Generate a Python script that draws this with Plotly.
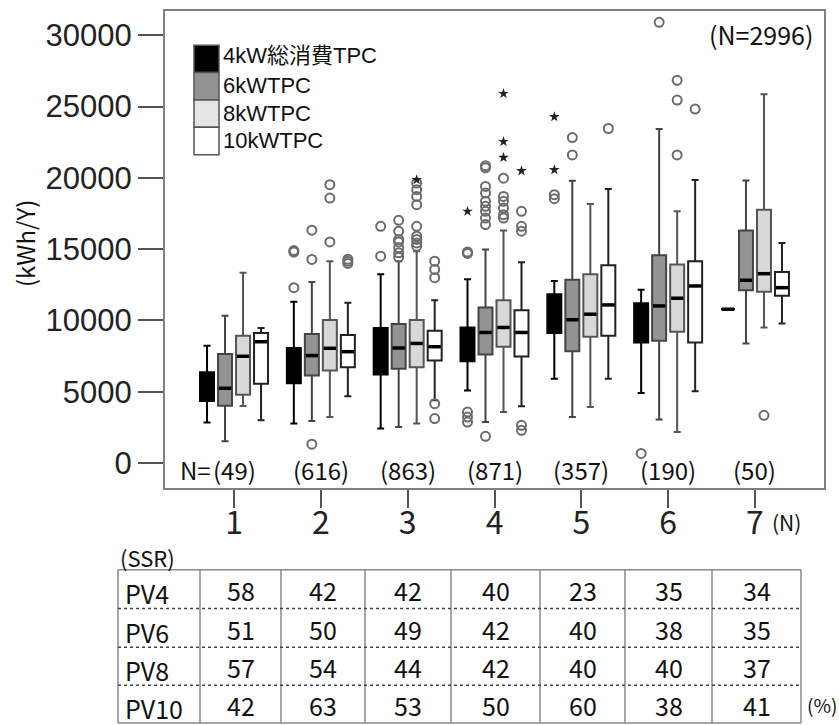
import plotly.graph_objects as go

# ---------------------------------------------------------------- data
groups = [1, 2, 3, 4, 5, 6, 7]                 # household size (persons)
counts = [49, 616, 863, 871, 357, 190, 50]     # households per size
total_n = 2996
series_names = ["4kW総消費TPC", "6kWTPC", "8kWTPC", "10kWTPC"]

# box statistics (rows: 4kW, 6kW, 8kW, 10kW ; columns: size 1..7), kWh/year
q1 = [
    [4350, 5600, 6210, 7140, 9120, 8460, 10790],
    [4030, 6140, 6610, 7610, 7840, 8580, 12120],
    [4790, 6490, 6720, 8160, 8860, 9210, 12020],
    [5560, 6720, 7190, 7470, 8930, 8460, 11740],
]
median = [
    [5400, 7000, 8000, 8300, 10500, 9800, 10790],
    [5250, 7540, 8070, 9160, 10050, 11020, 12820],
    [7490, 8050, 8390, 9510, 10440, 11560, 13280],
    [8510, 7810, 8160, 9160, 11090, 12420, 12300],
]
q3 = [
    [6370, 8070, 9470, 9510, 11840, 11210, 10790],
    [7650, 9050, 9750, 10910, 12860, 14580, 16300],
    [8930, 10030, 10030, 11420, 13240, 13930, 17770],
    [9120, 8980, 9280, 10720, 13880, 14160, 13400],
]
lower = [
    [2840, 2770, 2420, 5090, 5910, 4910, 10790],
    [1540, 2950, 2530, 2880, 3230, 3050, 8390],
    [4000, 3230, 2770, 3580, 3930, 2180, 9510],
    [3000, 4680, 4400, 3980, 5910, 5040, 9790],
]
upper = [
    [8230, 11320, 13240, 12890, 12770, 12160, 10790],
    [10330, 12700, 14160, 14980, 19790, 23420, 19820],
    [13350, 14160, 14860, 16310, 18160, 17650, 25860],
    [9470, 11250, 11420, 14090, 19210, 19840, 15440],
]

# outliers (open circles) per series, per household size
outliers_4kw = [[], [12300, 14800, 14900], [14510, 16600],
                [2880, 3230, 3580, 14700, 14800], [18540, 18820], [680], []]
outliers_6kw = [[], [1330, 14280, 16330],
                [14440, 14740, 15090, 15510, 15680, 16260, 17020],
                [1880, 16720, 17180, 17650, 18000, 18350, 18930, 19400, 20700, 20850],
                [21610, 22820], [30900], []]
outliers_8kw = [[], [15510, 18580, 19520],
                [15210, 15440, 15680, 15910, 16600, 18120, 18700, 19170, 19630],
                [17180, 17420, 17880, 18350, 18700, 19980], [],
                [21610, 25450, 26840], [3350]]
outliers_10kw = [[], [14000, 14150, 14300], [3120, 4170, 13000, 13580, 14160],
                 [2300, 2650, 16260, 16600, 17650], [23460], [24820], []]

# extreme values (stars)
extremes_4kw = [[], [], [], [17650], [20560, 24280], [], []]
extremes_6kw = [[], [], [], [], [], [], []]
extremes_8kw = [[], [], [19860], [21420, 22540, 25900], [], [], []]
extremes_10kw = [[], [], [], [20490], [], [], []]

# self-sufficiency rate table (%)
ssr_rows = ["PV4", "PV6", "PV8", "PV10"]
ssr_pv4 = [58, 42, 42, 40, 23, 35, 34]
ssr_pv6 = [51, 50, 49, 42, 40, 38, 35]
ssr_pv8 = [57, 54, 44, 42, 40, 40, 37]
ssr_pv10 = [42, 63, 53, 50, 60, 38, 41]

y_ticks = [0, 5000, 10000, 15000, 20000, 25000, 30000]

# ---------------------------------------------------------------- styling
GOTHIC = "Noto Sans CJK JP, sans-serif"
SANS = "Liberation Sans, Arial, sans-serif"
KEY_FONT = "Liberation Sans, Arial, Noto Sans CJK JP, sans-serif"
INK = "#111111"
fills = ["#000000", "#939393", "#d8d8d8", "#ffffff"]
swatch_fills = ["#000000", "#939393", "#e4e4e4", "#ffffff"]
edges = ["#000000", "#444444", "#555555", "#222222"]
offsets = [-0.311, -0.1037, 0.1037, 0.311]
BOX_W = 0.161

W, H = 839, 725
ML, MR, MT, MB = 165, 15, 9, 237
PW, PH = W - ML - MR, H - MT - MB


def px(x):
    return (x - ML) / PW


def py(y):
    return (H - MB - y) / PH


outliers = [outliers_4kw, outliers_6kw, outliers_8kw, outliers_10kw]
extremes = [extremes_4kw, extremes_6kw, extremes_8kw, extremes_10kw]

fig = go.Figure()

for k, name in enumerate(series_names):
    xs = [g + offsets[k] for g in groups]
    fig.add_trace(go.Box(
        x=xs, q1=q1[k], median=median[k], q3=q3[k],
        lowerfence=lower[k], upperfence=upper[k],
        width=BOX_W, whiskerwidth=0.5, boxpoints=False,
        fillcolor=fills[k], line=dict(color=edges[k], width=2),
        name=name, showlegend=False, hoverinfo="skip",
    ))
    # heavier median bars
    mx, my = [], []
    for x, m in zip(xs, median[k]):
        mx += [x - BOX_W / 2 + 0.01, x + BOX_W / 2 - 0.01, None]
        my += [m, m, None]
    fig.add_trace(go.Scatter(x=mx, y=my, mode="lines",
                             line=dict(color="#000000", width=3.5),
                             showlegend=False, hoverinfo="skip"))
    # outliers and extremes
    ox, oy, ex, ey = [], [], [], []
    for x, vals in zip(xs, outliers[k]):
        ox += [x] * len(vals)
        oy += vals
    for x, vals in zip(xs, extremes[k]):
        ex += [x] * len(vals)
        ey += vals
    fig.add_trace(go.Scatter(x=ox, y=oy, mode="markers",
                             marker=dict(symbol="circle-open", size=9,
                                         color="#6b6b6b", line=dict(width=2)),
                             showlegend=False, hoverinfo="skip"))
    if ex:
        fig.add_trace(go.Scatter(x=ex, y=ey, mode="markers",
                                 marker=dict(symbol="star", size=8, color="#222222"),
                                 showlegend=False, hoverinfo="skip"))

shapes = []
annotations = []

# legend key (stacked swatches); the first label carries CJK glyphs with a taller line box
sw_top, sw_h = 43.3, 27.5
key_text_y = [53.8, 84.3, 112.0, 139.3]
for i, name in enumerate(series_names):
    y0 = sw_top + i * sw_h
    shapes.append(dict(type="rect", xref="paper", yref="paper",
                       x0=px(194), x1=px(219), y0=py(y0), y1=py(y0 + sw_h),
                       fillcolor=swatch_fills[i], line=dict(color="#555555", width=1.5)))
    annotations.append(dict(xref="paper", yref="paper", x=px(221), y=py(key_text_y[i]),
                            xanchor="left", yanchor="middle", showarrow=False,
                            text=name, font=dict(family=KEY_FONT, size=22, color=INK)))

# sample size labels
annotations.append(dict(xref="paper", yref="paper", x=px(815), y=py(32),
                        xanchor="right", yanchor="middle", showarrow=False,
                        text=f"(N={total_n})",
                        font=dict(family=GOTHIC, size=25, color=INK)))
for g, n in zip(groups, counts):
    annotations.append(dict(xref="x", yref="paper", x=g, y=py(469),
                            xanchor="center", yanchor="middle", showarrow=False,
                            text=f"({n})", font=dict(family=GOTHIC, size=24, color=INK)))
annotations.append(dict(xref="x", yref="paper", x=groups[0], xshift=-21, y=py(469),
                        xanchor="right", yanchor="middle", showarrow=False,
                        text="N=", font=dict(family=GOTHIC, size=24, color=INK)))
annotations.append(dict(xref="x", yref="paper", x=groups[-1], xshift=15, y=py(522),
                        xanchor="left", yanchor="middle", showarrow=False,
                        text="(N)", font=dict(family=GOTHIC, size=21, color=INK)))

# y-axis title
annotations.append(dict(xref="paper", yref="paper", x=px(24), y=py(243),
                        xanchor="center", yanchor="middle", showarrow=False, textangle=-90,
                        text="(kWh/Y)", font=dict(family=GOTHIC, size=24, color=INK)))

# SSR table
col_edges = [118, 200, 281, 365, 451, 540, 625, 712, 801]
row_edges = [570, 609, 648, 686, 724]
ssr_values = [ssr_pv4, ssr_pv6, ssr_pv8, ssr_pv10]
for xe in col_edges:
    shapes.append(dict(type="line", xref="paper", yref="paper",
                       x0=px(xe), x1=px(xe), y0=py(row_edges[0]), y1=py(row_edges[-1]),
                       line=dict(color="#8a8a8a", width=1.5)))
for j, ye in enumerate(row_edges):
    solid = j in (0, len(row_edges) - 1)
    shapes.append(dict(type="line", xref="paper", yref="paper",
                       x0=px(col_edges[0]), x1=px(col_edges[-1]), y0=py(ye), y1=py(ye),
                       line=dict(color="#8a8a8a" if solid else "#444444", width=1.5,
                                 dash="solid" if solid else "dot")))
for r, (label, vals) in enumerate(zip(ssr_rows, ssr_values)):
    yc = (row_edges[r] + row_edges[r + 1]) / 2 + 1
    annotations.append(dict(xref="paper", yref="paper", x=px(col_edges[0] + 5), y=py(yc + 3),
                            xanchor="left", yanchor="middle", showarrow=False, text=label,
                            font=dict(family=GOTHIC, size=25, color=INK)))
    for c, v in enumerate(vals):
        xc = (col_edges[c + 1] + col_edges[c + 2]) / 2
        annotations.append(dict(xref="paper", yref="paper", x=px(xc), y=py(yc),
                                xanchor="center", yanchor="middle", showarrow=False,
                                text=str(v), font=dict(family=GOTHIC, size=25, color=INK)))
annotations.append(dict(xref="paper", yref="paper", x=px(118), y=py(557),
                        xanchor="left", yanchor="middle", showarrow=False, text="(SSR)",
                        font=dict(family=GOTHIC, size=22, color=INK)))
annotations.append(dict(xref="paper", yref="paper", x=px(805), y=py(705),
                        xanchor="left", yanchor="middle", showarrow=False, text="(%)",
                        font=dict(family=GOTHIC, size=19, color=INK)))

fig.update_layout(
    width=W, height=H, autosize=False,
    margin=dict(l=ML, r=MR, t=MT, b=MB, pad=0),
    paper_bgcolor="white", plot_bgcolor="white",
    boxmode="overlay",
    shapes=shapes, annotations=annotations,
    xaxis=dict(range=[0.205, 7.795], tickvals=groups, ticktext=[str(g) for g in groups],
               ticks="outside", ticklen=18, tickwidth=2, tickcolor="#555555",
               ticklabelstandoff=-12,
               tickfont=dict(family=GOTHIC, size=32, color="#222222"),
               showline=True, linecolor="#808080", linewidth=2, mirror=True,
               showgrid=False, zeroline=False),
    yaxis=dict(range=[-1745, 31697], tickvals=y_ticks, ticktext=[str(v) for v in y_ticks],
               ticks="outside", ticklen=25, tickwidth=2, tickcolor="#555555",
               tickfont=dict(family=SANS, size=31, color="#222222"),
               showline=True, linecolor="#808080", linewidth=2, mirror=True,
               showgrid=False, zeroline=False),
)

fig.write_html("out.html")
